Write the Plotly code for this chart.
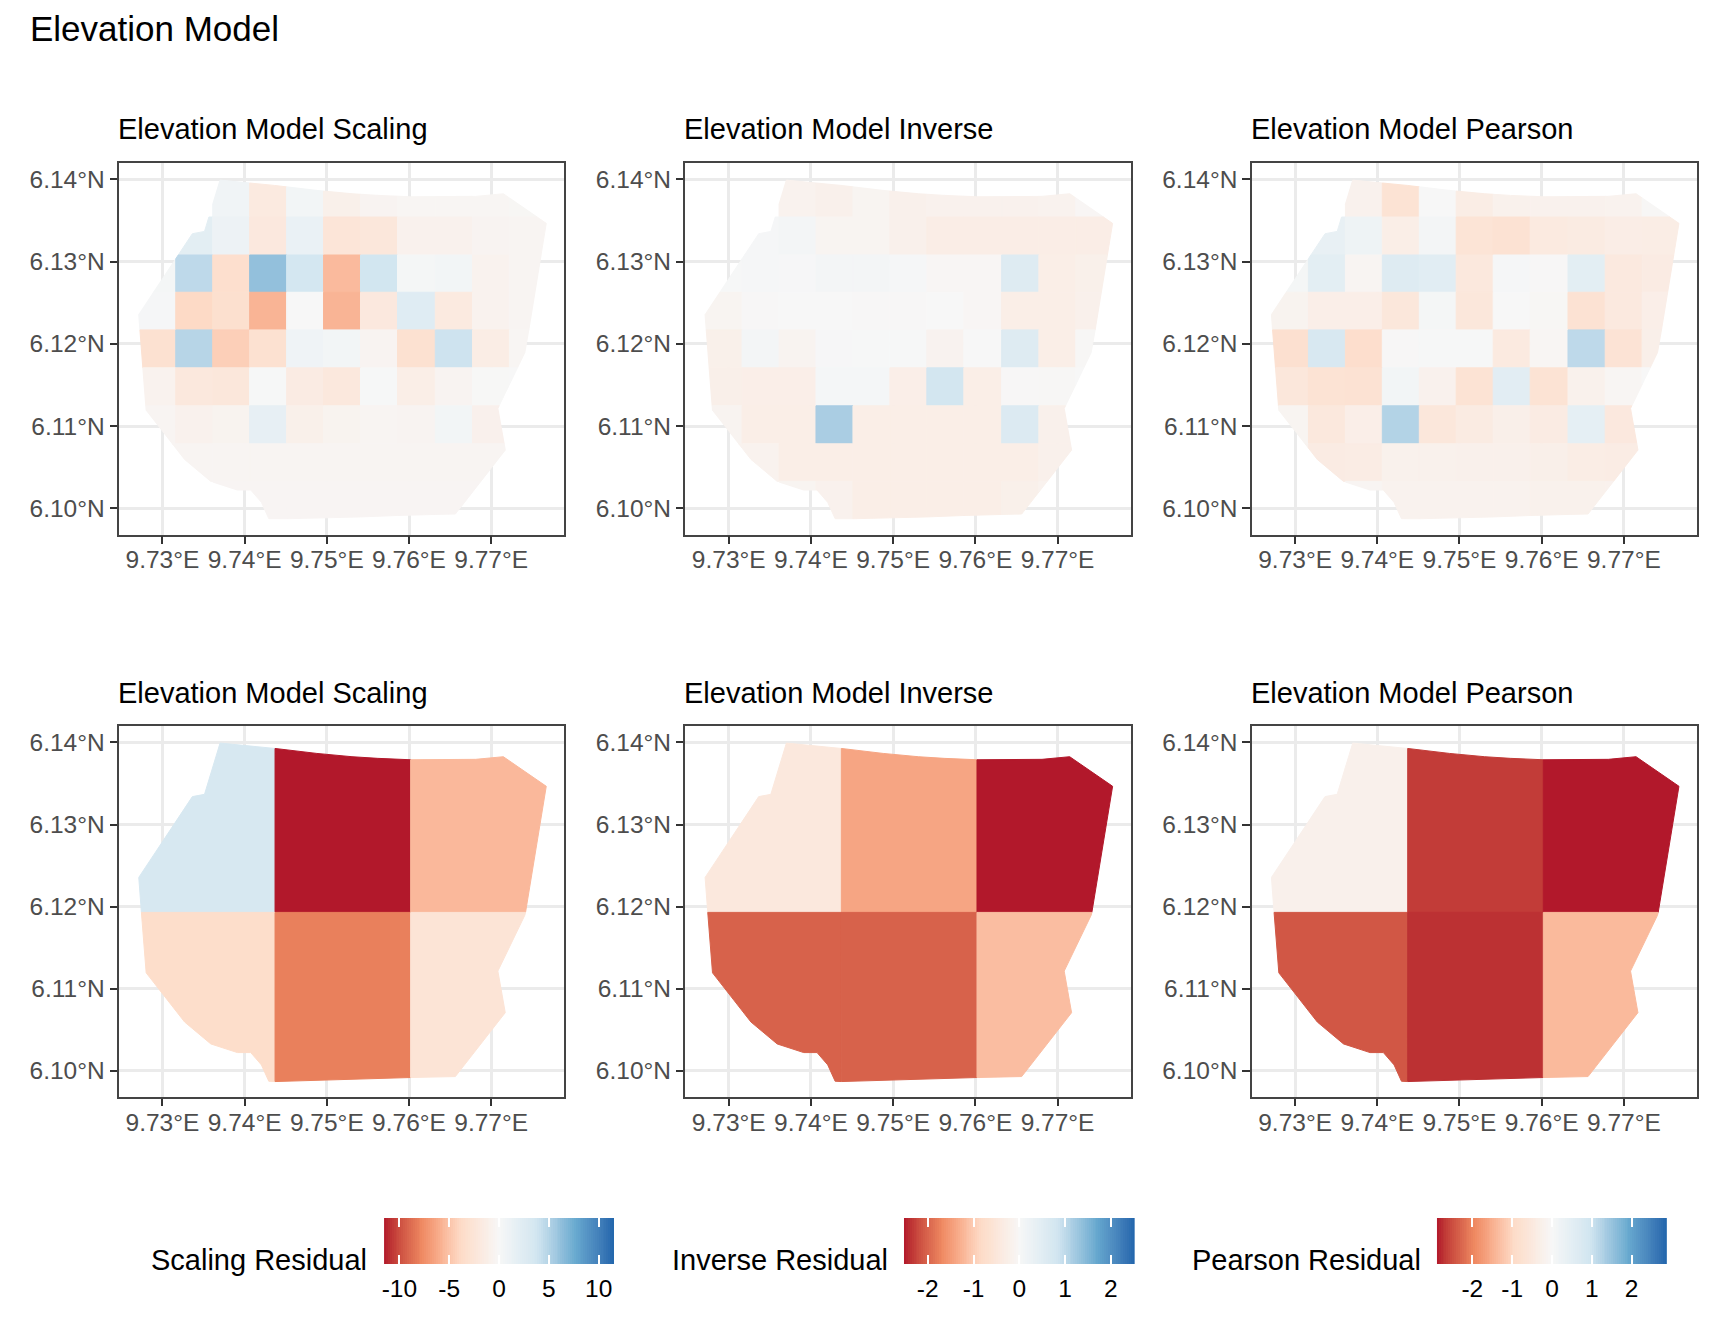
import plotly.graph_objects as go
import numpy as np

# outline of the study area
boundary_lon = [9.73701, 9.74366, 9.74879, 9.75306, 9.75620, 9.76016, 9.76811, 9.77148, 9.77670, 9.77418,
                9.77409, 9.77081, 9.77171, 9.76564, 9.76016, 9.75396, 9.74366, 9.74294, 9.74204, 9.74074,
                9.73912, 9.73589, 9.73270, 9.72802, 9.72744, 9.72712, 9.73364, 9.73512]
boundary_lat = [6.13992, 6.13927, 6.13866, 6.13826, 6.13806, 6.13789, 6.13794, 6.13826, 6.13466, 6.11931,
                6.11895, 6.11215, 6.10709, 6.09931, 6.09919, 6.09895, 6.09870, 6.09874, 6.10073, 6.10223,
                6.10223, 6.10328, 6.10595, 6.11194, 6.11931, 6.12356, 6.13340, 6.13368]

# fine grid edges and residuals, rows north to south
fine_lon = [9.7270, 9.73162, 9.73612, 9.74061, 9.74511, 9.74960, 9.75410, 9.75860, 9.76320, 9.76773, 9.77222, 9.7768]
fine_lat = [6.1401, 6.13543, 6.13081, 6.12628, 6.12170, 6.11709, 6.11247, 6.10785, 6.10328, 6.0986]

scaling_fine = [
    [None, None, 0.7, -1.8, 0.5, -1.0, -0.5, -0.3, -0.3, -0.3, -0.2],
    [None, 2.0, 1.0, -2.0, 1.3, -2.5, -2.2, -0.8, -0.8, -0.5, -0.4],
    [0.3, 4.6, -3.3, 6.2, 3.5, -5.4, 3.7, 0.3, 0.5, -0.7, -0.4],
    [0.2, -3.9, -3.2, -5.7, 0.0, -5.7, -2.0, 2.45, -1.8, -0.7, -0.4],
    [-3.0, 4.85, -4.4, -3.0, 0.8, 0.5, -0.5, -3.0, 3.95, -1.4, -0.3],
    [-0.7, -2.1, -2.2, 0.1, -1.6, -2.1, 0.1, -1.3, -0.5, -0.05, 0.0],
    [-0.4, -0.8, -0.6, 1.6, -1.0, -0.6, -0.4, -0.5, 0.5, -0.9, None],
    [-0.4, -0.4, -0.4, -0.4, -0.4, -0.4, -0.4, -0.4, -0.4, -0.4, None],
    [None, None, -0.35, -0.35, -0.35, -0.35, -0.35, -0.35, -0.35, -0.35, None],
]
inverse_fine = [
    [None, None, -0.15, -0.2, -0.1, -0.2, -0.18, -0.18, -0.18, -0.15, -0.05],
    [None, 0.05, 0.08, -0.1, -0.1, -0.2, -0.3, -0.3, -0.3, -0.3, -0.3],
    [0.02, 0.04, 0.03, 0.1, 0.08, 0.05, -0.05, -0.05, 0.55, -0.27, -0.22],
    [-0.1, -0.02, 0.0, 0.0, -0.02, -0.02, 0.0, -0.05, -0.27, -0.27, -0.2],
    [-0.22, 0.08, -0.12, 0.03, 0.02, 0.02, -0.14, 0.01, 0.55, -0.27, -0.04],
    [-0.24, -0.26, -0.26, 0.06, 0.06, -0.26, 0.8, -0.28, -0.02, -0.03, 0.0],
    [-0.12, -0.27, -0.27, 1.17, -0.27, -0.27, -0.27, -0.27, 0.6, -0.2, None],
    [-0.15, -0.15, -0.27, -0.27, -0.27, -0.27, -0.27, -0.27, -0.27, -0.2, None],
    [None, None, -0.1, -0.18, -0.27, -0.27, -0.27, -0.27, -0.22, -0.15, None],
]
pearson_fine = [
    [None, None, -0.2, -0.69, 0.01, -0.35, -0.22, -0.2, -0.2, -0.17, -0.03],
    [None, 0.38, 0.23, -0.32, 0.1, -0.65, -0.72, -0.45, -0.42, -0.33, -0.35],
    [0.08, 0.5, -0.1, 0.65, 0.55, -0.52, 0.06, -0.02, 0.5, -0.47, -0.4],
    [-0.15, -0.3, -0.3, -0.55, 0.07, -0.55, 0.0, -0.05, -0.72, -0.47, -0.3],
    [-0.78, 0.78, -0.85, -0.02, 0.02, 0.02, -0.45, -0.08, 1.15, -0.68, -0.27],
    [-0.55, -0.69, -0.72, 0.12, -0.2, -0.69, 0.53, -0.7, -0.22, -0.07, 0.0],
    [-0.12, -0.52, -0.3, 1.25, -0.55, -0.42, -0.27, -0.4, 0.45, -0.5, None],
    [-0.15, -0.4, -0.38, -0.22, -0.22, -0.24, -0.24, -0.28, -0.35, -0.38, None],
    [None, None, -0.1, -0.18, -0.18, -0.18, -0.17, -0.22, -0.22, -0.2, None],
]

# coarse grid edges and residuals
coarse_lon = [9.7270, 9.7437, 9.7602, 9.7768]
coarse_lat = [6.1401, 6.1193, 6.0986]

scaling_coarse = [[3.2, -11.54, -5.5], [-3.5, -8.1, -2.6]]
inverse_coarse = [[-0.45, -1.4, -2.52], [-2.02, -2.02, -1.15]]
pearson_coarse = [[-0.24, -2.65, -2.89], [-2.42, -2.74, -1.36]]

titles = ["Elevation Model Scaling", "Elevation Model Inverse", "Elevation Model Pearson"]
legend_titles = ["Scaling Residual", "Inverse Residual", "Pearson Residual"]
limits = [11.54, 2.52, 2.89]
legend_ticks = [[-10, -5, 0, 5, 10], [-2, -1, 0, 1, 2], [-2, -1, 0, 1, 2]]
legend_labels = [["-10", "-5", "0", "5", "10"], ["-2", "-1", "0", "1", "2"], ["-2", "-1", "0", "1", "2"]]

lon_ticks = [9.73, 9.74, 9.75, 9.76, 9.77]
lat_ticks = [6.10, 6.11, 6.12, 6.13, 6.14]
lon_labels = ["9.73°E", "9.74°E", "9.75°E", "9.76°E", "9.77°E"]
lat_labels = ["6.10°N", "6.11°N", "6.12°N", "6.13°N", "6.14°N"]

rdbu = ["#B2182B", "#EF8A62", "#FDDBC7", "#F7F7F7", "#D1E5F0", "#67A9CF", "#2166AC"]
font_name = "Liberation Sans"

# the page has an 8px body margin, so the figure is drawn 16px smaller
PAGE = 8
W, H = 1728 - 2 * PAGE, 1344 - 2 * PAGE
panel_x = [(117, 563), (684, 1130), (1251, 1697)]
panel_y = [(163, 534.5), (726, 1097)]
bar_x = [(382.5, 612.8), (903, 1134), (1436.5, 1667)]
bar_y = (1218, 1264)
legend_title_right = [367, 889.5, 1423]


def xpos(a):
    return (a - PAGE) / W


def ypos(a):
    return 1 - (a - PAGE) / H


def srgb_to_lab(hex_color):
    rgb = np.array([int(hex_color[i:i + 2], 16) for i in (1, 3, 5)]) / 255
    lin = np.where(rgb > 0.04045, ((rgb + 0.055) / 1.055) ** 2.4, rgb / 12.92)
    xyz = np.array([[0.4124, 0.3576, 0.1805], [0.2126, 0.7152, 0.0722], [0.0193, 0.1192, 0.9505]]) @ lin
    t = xyz / np.array([0.95047, 1.0, 1.08883])
    f = np.where(t > 0.008856, np.cbrt(t), 7.787 * t + 16 / 116)
    return np.array([116 * f[1] - 16, 500 * (f[0] - f[1]), 200 * (f[1] - f[2])])


def lab_to_srgb(lab):
    fy = (lab[0] + 16) / 116
    f = np.array([fy + lab[1] / 500, fy, fy - lab[2] / 200])
    t = np.where(f ** 3 > 0.008856, f ** 3, (f - 16 / 116) / 7.787) * np.array([0.95047, 1.0, 1.08883])
    lin = np.array([[3.2406, -1.5372, -0.4986], [-0.9689, 1.8758, 0.0415], [0.0557, -0.2040, 1.0570]]) @ t
    lin = np.clip(lin, 0, 1)
    rgb = np.where(lin > 0.0031308, 1.055 * lin ** (1 / 2.4) - 0.055, 12.92 * lin)
    return "rgb({},{},{})".format(*[int(round(v * 255)) for v in rgb])


rdbu_lab = [srgb_to_lab(c) for c in rdbu]


def ramp_color(frac):
    # ggplot blends the palette in Lab
    pos = min(max(frac, 0), 1) * (len(rdbu) - 1)
    i = min(int(pos), len(rdbu) - 2)
    return lab_to_srgb(rdbu_lab[i] + (rdbu_lab[i + 1] - rdbu_lab[i]) * (pos - i))


lab_scale = [[k / 60, ramp_color(k / 60)] for k in range(61)]


def clip_edge(pts, inside, cross):
    out = []
    for i, p in enumerate(pts):
        q = pts[i - 1]
        if inside(p):
            if not inside(q):
                out.append(cross(q, p))
            out.append(p)
        elif inside(q):
            out.append(cross(q, p))
    return out


def clip_cell(x0, x1, y0, y1):
    # cut the area outline down to one grid cell
    pts = list(zip(boundary_lon, boundary_lat))

    def at_x(v):
        return lambda a, b: (v, a[1] + (b[1] - a[1]) * (v - a[0]) / (b[0] - a[0]))

    def at_y(v):
        return lambda a, b: (a[0] + (b[0] - a[0]) * (v - a[1]) / (b[1] - a[1]), v)

    for inside, cross in [(lambda p: p[0] >= x0, at_x(x0)), (lambda p: p[0] <= x1, at_x(x1)),
                          (lambda p: p[1] >= y0, at_y(y0)), (lambda p: p[1] <= y1, at_y(y1))]:
        if pts:
            pts = clip_edge(pts, inside, cross)
    return pts


def add_grid(fig, values, lons, lats, limit, axis_id):
    for r, row in enumerate(values):
        for c, v in enumerate(row):
            if v is None:
                continue
            pts = clip_cell(lons[c], lons[c + 1], lats[r + 1], lats[r])
            if len(pts) < 3:
                continue
            color = ramp_color((v + limit) / (2 * limit))
            fig.add_trace(go.Scatter(
                x=[p[0] for p in pts] + [pts[0][0]],
                y=[p[1] for p in pts] + [pts[0][1]],
                mode="lines",
                fill="toself",
                fillcolor=color,
                line=dict(color=color, width=1),
                hoverinfo="skip",
                showlegend=False,
                xaxis="x" + axis_id,
                yaxis="y" + axis_id,
            ))


fig = go.Figure()
layout = {}
grids = [(scaling_fine, inverse_fine, pearson_fine), (scaling_coarse, inverse_coarse, pearson_coarse)]
edges = [(fine_lon, fine_lat), (coarse_lon, coarse_lat)]
annotations = [dict(text="Elevation Model", x=xpos(26.5), y=ypos(28.5), xanchor="left", yanchor="middle",
                    font=dict(size=35, color="black"))]

n = 0
for row in range(2):
    for col in range(3):
        n += 1
        axis_id = str(n)
        add_grid(fig, grids[row][col], edges[row][0], edges[row][1], limits[col], axis_id)
        common = dict(showgrid=True, gridcolor="#EBEBEB", gridwidth=3, zeroline=False, showline=True,
                      linecolor="#444444", linewidth=1.5, mirror=True, ticks="outside", ticklen=7.5,
                      tickwidth=2, tickcolor="#333333", tickfont=dict(size=24.5, color="#4D4D4D"))
        layout["xaxis" + axis_id] = dict(common, domain=[xpos(panel_x[col][0]), xpos(panel_x[col][1])],
                                         anchor="y" + axis_id, range=[9.7247, 9.77890], tickvals=lon_ticks,
                                         ticktext=lon_labels, ticklabelstandoff=-5)
        layout["yaxis" + axis_id] = dict(common, domain=[ypos(panel_y[row][1]), ypos(panel_y[row][0])],
                                         anchor="x" + axis_id, range=[6.09682, 6.14200], tickvals=lat_ticks,
                                         ticktext=lat_labels)
        annotations.append(dict(text=titles[col], x=xpos(panel_x[col][0] - 3), y=ypos(panel_y[row][0] - 33.5),
                                xanchor="left", yanchor="middle", font=dict(size=29, color="black")))

# legend ramps
for i in range(3):
    axis_id = str(7 + i)
    ramp = np.linspace(-limits[i], limits[i], 121)
    fig.add_trace(go.Heatmap(
        x=ramp,
        y=[0, 1],
        z=[(ramp[:-1] + ramp[1:]) / 2],
        zmin=-limits[i],
        zmax=limits[i],
        colorscale=lab_scale,
        showscale=False,
        hoverinfo="skip",
        xaxis="x" + axis_id,
        yaxis="y" + axis_id,
    ))
    layout["xaxis" + axis_id] = dict(domain=[xpos(bar_x[i][0]), xpos(bar_x[i][1])], anchor="y" + axis_id,
                                     range=[-limits[i], limits[i]], tickvals=legend_ticks[i],
                                     ticktext=legend_labels[i], ticks="inside", ticklen=9, tickwidth=1.5,
                                     tickcolor="white", mirror="ticks", showline=False, showgrid=False,
                                     zeroline=False, tickfont=dict(size=24.5, color="black"), ticklabelstandoff=7)
    layout["yaxis" + axis_id] = dict(domain=[ypos(bar_y[1]), ypos(bar_y[0])], anchor="x" + axis_id, range=[0, 1],
                                     showticklabels=False, ticks="", showgrid=False, zeroline=False, showline=False)
    annotations.append(dict(text=legend_titles[i], x=xpos(legend_title_right[i]), y=ypos(1259.5), xanchor="right",
                            yanchor="middle", font=dict(size=29, color="black")))

for a in annotations:
    a.update(xref="paper", yref="paper", showarrow=False)

fig.update_layout(width=W, height=H, margin=dict(l=0, r=0, t=0, b=0), paper_bgcolor="white", plot_bgcolor="white",
                  font=dict(family=font_name), showlegend=False, annotations=annotations, **layout)

fig.write_html("out.html")
